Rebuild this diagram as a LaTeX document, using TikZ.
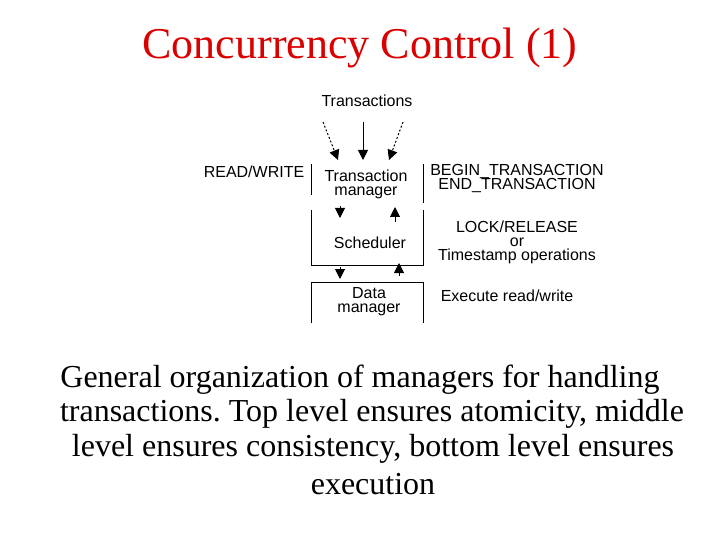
\documentclass[tikz,border=0pt]{standalone}
\usepackage{fontspec}
\setmainfont{Liberation Serif}
\newfontfamily\arial{Liberation Sans}
\usetikzlibrary{arrows.meta}
\frenchspacing
\begin{document}
\begin{tikzpicture}[x=1pt,y=-1pt,
  lbl/.style={font=\arial\fontsize{16}{14}\selectfont,inner sep=0pt,align=center},
  captext/.style={font=\fontsize{32}{31}\selectfont,inner sep=0pt},
  ln/.style={line width=1pt},
  arr/.style={line width=1pt,-{Triangle[length=10pt,width=10pt]}},
  darr/.style={arr,dash pattern=on 2pt off 2pt}]
\useasboundingbox (0,0) rectangle (720,540);
\node[font=\fontsize{44}{48}\selectfont,text=red!85!black,inner sep=0pt] (title) at (360,48) {Concurrency Control (1)};
\node[lbl] (tr) at (367,101) {Transactions};
\coordinate (t1) at (323,122); \coordinate (t1e) at (338,160);
\coordinate (t2) at (363,122); \coordinate (t2e) at (363,160);
\coordinate (t3) at (403,122); \coordinate (t3e) at (389,160);
\draw[darr] (t1) -- (t1e);
\draw[arr] (t2) -- (t2e);
\draw[darr] (t3) -- (t3e);
\node[lbl] (rw) at (254,172) {READ/WRITE};
\node[lbl] (tm) at (366,184) {Transaction\\manager};
\node[lbl] (be) at (517,172) {BEGIN\_TRANSACTION};
\node[lbl] (et) at (517,186) {END\_TRANSACTION};
\node[lbl] (sch) at (370,243) {Scheduler};
\node[lbl] (lr) at (517,227) {LOCK/RELEASE};
\node[lbl] (or) at (517,242) {or};
\node[lbl] (ts) at (517,256) {Timestamp operations};
\node[lbl] (dm) at (369,302) {Data\\manager};
\node[lbl] (ex) at (507,296) {Execute read/write};
% box lines
\coordinate (a1) at (311,164); \coordinate (a2) at (311,195);
\coordinate (b1) at (423,164); \coordinate (b2) at (423,203);
\draw[ln] (a1) -- (a2); \draw[ln] (b1) -- (b2);
\coordinate (s1) at (311,210); \coordinate (s2) at (311,265);
\coordinate (s3) at (423,265); \coordinate (s4) at (423,210);
\draw[ln] (s1) -- (s2) -- (s3) -- (s4);
\coordinate (d1) at (311,323); \coordinate (d2) at (311,282);
\coordinate (d3) at (423,282); \coordinate (d4) at (423,323);
\draw[ln] (d1) -- (d2) -- (d3) -- (d4);
% small arrows
\coordinate (p1) at (340,206); \coordinate (p1e) at (340,218);
\draw[arr] (p1) -- (p1e);
\coordinate (p2) at (395,222); \coordinate (p2e) at (395,207);
\draw[arr] (p2) -- (p2e);
\coordinate (q1) at (340,267); \coordinate (q1e) at (340,279);
\draw[arr] (q1) -- (q1e);
\coordinate (q2) at (399,276); \coordinate (q2e) at (399,263);
\draw[arr] (q2) -- (q2e);
% caption
\node[captext] (c1) at (360,380) {General organization of managers for handling};
\node[captext] (c2) at (372,414) {transactions. Top level ensures atomicity, middle};
\node[captext] (c3) at (373,449) {level ensures consistency, bottom level ensures};
\node[captext] (c4) at (373,484) {execution};
\end{tikzpicture}
\end{document}
